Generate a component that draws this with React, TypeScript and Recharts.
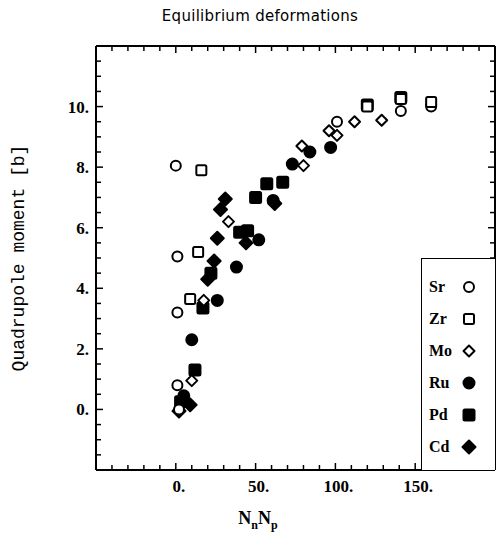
import { Scatter, ScatterChart, XAxis, YAxis } from "recharts";

// N_n * N_p (x) vs quadrupole moment in barns (y)
const srData = [
  { x: 0, y: 8.05 }, { x: 1, y: 5.05 }, { x: 1, y: 3.2 }, { x: 1, y: 0.8 },
  { x: 2, y: 0.0 }, { x: 101, y: 9.5 }, { x: 141, y: 9.85 }, { x: 160, y: 10.0 },
];
const zrData = [
  { x: 16, y: 7.9 }, { x: 14, y: 5.2 }, { x: 9, y: 3.65 },
  { x: 120, y: 10.0 }, { x: 141, y: 10.25 }, { x: 160, y: 10.15 },
];
const moData = [
  { x: 33, y: 6.2 }, { x: 17.5, y: 3.6 }, { x: 10, y: 0.95 }, { x: 80, y: 8.05 },
  { x: 79, y: 8.7 }, { x: 96, y: 9.2 }, { x: 101, y: 9.05 }, { x: 112, y: 9.5 }, { x: 129, y: 9.55 },
];
const ruData = [
  { x: 73, y: 8.1 }, { x: 84, y: 8.5 }, { x: 97, y: 8.65 }, { x: 61, y: 6.9 },
  { x: 52, y: 5.6 }, { x: 38, y: 4.7 }, { x: 26, y: 3.6 }, { x: 10, y: 2.3 }, { x: 5, y: 0.45 },
];
const pdData = [
  { x: 67, y: 7.5 }, { x: 57, y: 7.45 }, { x: 50, y: 7.0 }, { x: 45, y: 5.9 },
  { x: 40, y: 5.85 }, { x: 22, y: 4.5 }, { x: 17, y: 3.35 }, { x: 12, y: 1.3 },
  { x: 3, y: 0.25 }, { x: 120, y: 10.05 }, { x: 141, y: 10.3 },
];
const cdData = [
  { x: 31, y: 6.95 }, { x: 28, y: 6.6 }, { x: 26, y: 5.65 }, { x: 20, y: 4.3 },
  { x: 24, y: 4.9 }, { x: 44, y: 5.5 }, { x: 62, y: 6.8 }, { x: 9, y: 0.15 }, { x: 2, y: -0.05 },
];

const xTicks = [
  -50, -40, -30, -20, -10, 0, 10, 20, 30, 40, 50, 60, 70, 80, 90, 100,
  110, 120, 130, 140, 150, 160, 170, 180, 190, 200,
];
const xLabels = [0, 50, 100, 150];
const yTicks = [
  -2, -1.5, -1, -0.5, 0, 0.5, 1, 1.5, 2, 2.5, 3, 3.5, 4, 4.5, 5, 5.5, 6, 6.5,
  7, 7.5, 8, 8.5, 9, 9.5, 10, 10.5, 11, 11.5, 12,
];
const yLabels = [0, 2, 4, 6, 8, 10];

type Kind = "circle" | "square" | "diamond";

const series: { name: string; kind: Kind; filled: boolean; data: { x: number; y: number }[] }[] = [
  { name: "Ru", kind: "circle", filled: true, data: ruData },
  { name: "Pd", kind: "square", filled: true, data: pdData },
  { name: "Cd", kind: "diamond", filled: true, data: cdData },
  { name: "Sr", kind: "circle", filled: false, data: srData },
  { name: "Zr", kind: "square", filled: false, data: zrData },
  { name: "Mo", kind: "diamond", filled: false, data: moData },
];
const legendOrder = ["Sr", "Zr", "Mo", "Ru", "Pd", "Cd"];

const tickFont = "'Liberation Serif', serif";

function Marker({ cx, cy, kind, filled }: { cx: number; cy: number; kind: Kind; filled: boolean }) {
  const fill = filled ? "#000" : "#fff";
  const sw = 2;
  if (kind === "circle") {
    return <circle cx={cx} cy={cy} r={filled ? 5.5 : 5} fill={fill} stroke="#000" strokeWidth={sw} />;
  }
  if (kind === "square") {
    const h = filled ? 5.5 : 5;
    return <rect x={cx - h} y={cy - h} width={h * 2} height={h * 2} rx={1.5} fill={fill} stroke="#000" strokeWidth={sw} />;
  }
  const r = filled ? 6.5 : 5.5;
  return (
    <polygon
      points={`${cx},${cy - r} ${cx + r},${cy} ${cx},${cy + r} ${cx - r},${cy}`}
      fill={fill}
      stroke="#000"
      strokeWidth={sw}
      strokeLinejoin="round"
    />
  );
}

function BottomTick({ x, y, payload }: any) {
  const major = xLabels.includes(payload.value);
  return (
    <g>
      <line x1={x} y1={y} x2={x} y2={y - (major ? 7 : 5)} stroke="#000" strokeWidth={1.5} />
      {major && (
        <text x={x + 3} y={y + 22} textAnchor="middle" fontFamily={tickFont} fontSize={17} fontWeight="bold" fill="#000">
          {payload.value}.
        </text>
      )}
    </g>
  );
}

function TopTick({ x, y, payload }: any) {
  const major = xLabels.includes(payload.value);
  return <line x1={x} y1={y} x2={x} y2={y + (major ? 7 : 5)} stroke="#000" strokeWidth={1.5} />;
}

function LeftTick({ x, y, payload }: any) {
  const major = yLabels.includes(payload.value);
  return (
    <g>
      <line x1={x} y1={y} x2={x + (major ? 7 : 5)} y2={y} stroke="#000" strokeWidth={1.5} />
      {major && (
        <text x={x - 7} y={y + 6} textAnchor="end" fontFamily={tickFont} fontSize={17} fontWeight="bold" fill="#000">
          {payload.value}.
        </text>
      )}
    </g>
  );
}

function RightTick({ x, y, payload }: any) {
  const major = yLabels.includes(payload.value);
  return <line x1={x} y1={y} x2={x - (major ? 7 : 5)} y2={y} stroke="#000" strokeWidth={1.5} />;
}

function LegendSymbol({ kind, filled }: { kind: Kind; filled: boolean }) {
  return (
    <svg width={16} height={16} style={{ display: "block" }}>
      <Marker cx={8} cy={8} kind={kind} filled={filled} />
    </svg>
  );
}

const axisLine = { stroke: "#000", strokeWidth: 2 };

export default function App() {
  return (
    <div style={{ position: "absolute", left: 0, top: 0, width: 503, height: 548, background: "#fff" }}>
      <div
        style={{
          position: "absolute",
          left: 110,
          top: 7,
          width: 300,
          textAlign: "center",
          fontFamily: "'DejaVu Sans', sans-serif",
          fontSize: 15,
          letterSpacing: 0.3,
          color: "#000",
        }}
      >
        Equilibrium deformations
      </div>
      <ScatterChart width={503} height={548} margin={{ top: 26, right: 0, bottom: 48, left: 36 }}>
        <XAxis
          xAxisId="bottom"
          type="number"
          dataKey="x"
          domain={[-50, 200]}
          ticks={xTicks}
          interval={0}
          tick={BottomTick}
          tickLine={false}
          tickSize={0}
          tickMargin={0}
          height={30}
          axisLine={axisLine}
          allowDataOverflow
          label={{
            content: () => (
              <text x={258} y={524} textAnchor="middle" fontFamily={tickFont} fontSize={18} fontWeight="bold" fill="#000">
                N
                <tspan fontSize={12} dy={5}>n</tspan>
                <tspan dy={-5}>N</tspan>
                <tspan fontSize={12} dy={5}>p</tspan>
              </text>
            ),
          }}
        />
        <XAxis
          xAxisId="top"
          orientation="top"
          type="number"
          dataKey="x"
          domain={[-50, 200]}
          ticks={xTicks}
          interval={0}
          tick={TopTick}
          tickLine={false}
          tickSize={0}
          tickMargin={0}
          height={20}
          axisLine={axisLine}
          allowDataOverflow
        />
        <YAxis
          yAxisId="left"
          type="number"
          dataKey="y"
          domain={[-2, 12]}
          ticks={yTicks}
          interval={0}
          tick={LeftTick}
          tickLine={false}
          tickSize={0}
          tickMargin={0}
          width={60}
          axisLine={axisLine}
          allowDataOverflow
          label={{
            content: () => (
              <text
                x={24}
                y={258}
                transform="rotate(-90 24 258)"
                textAnchor="middle"
                fontFamily="'Liberation Mono', monospace"
                fontSize={18}
                fill="#000"
              >
                Quadrupole moment [b]
              </text>
            ),
          }}
        />
        <YAxis
          yAxisId="right"
          orientation="right"
          type="number"
          dataKey="y"
          domain={[-2, 12]}
          ticks={yTicks}
          interval={0}
          tick={RightTick}
          tickLine={false}
          tickSize={0}
          tickMargin={0}
          width={8}
          axisLine={axisLine}
          allowDataOverflow
        />
        {series.map((s) => (
          <Scatter
            key={s.name}
            name={s.name}
            data={s.data}
            xAxisId="bottom"
            yAxisId="left"
            isAnimationActive={false}
            shape={(p: any) => <Marker cx={p.cx} cy={p.cy} kind={s.kind} filled={s.filled} />}
          />
        ))}
        {series.map((s) => (
          <Scatter
            key={"ghost-" + s.name}
            data={s.data}
            xAxisId="top"
            yAxisId="right"
            isAnimationActive={false}
            shape={() => <g />}
          />
        ))}
      </ScatterChart>
      <div
        style={{
          position: "absolute",
          left: 421,
          top: 258,
          width: 74,
          height: 212,
          borderLeft: "1.5px solid #000",
          borderTop: "1.5px solid #000",
          background: "#fff",
          boxSizing: "border-box",
          paddingTop: 12,
        }}
      >
        {legendOrder.map((name) => {
          const s = series.find((d) => d.name === name)!;
          return (
            <div key={name} style={{ display: "flex", alignItems: "center", height: 32, paddingLeft: 7 }}>
              <span
                style={{
                  width: 32,
                  fontFamily: tickFont,
                  fontWeight: "bold",
                  fontSize: 16,
                  color: "#000",
                }}
              >
                {name}
              </span>
              <LegendSymbol kind={s.kind} filled={s.filled} />
            </div>
          );
        })}
      </div>
    </div>
  );
}
